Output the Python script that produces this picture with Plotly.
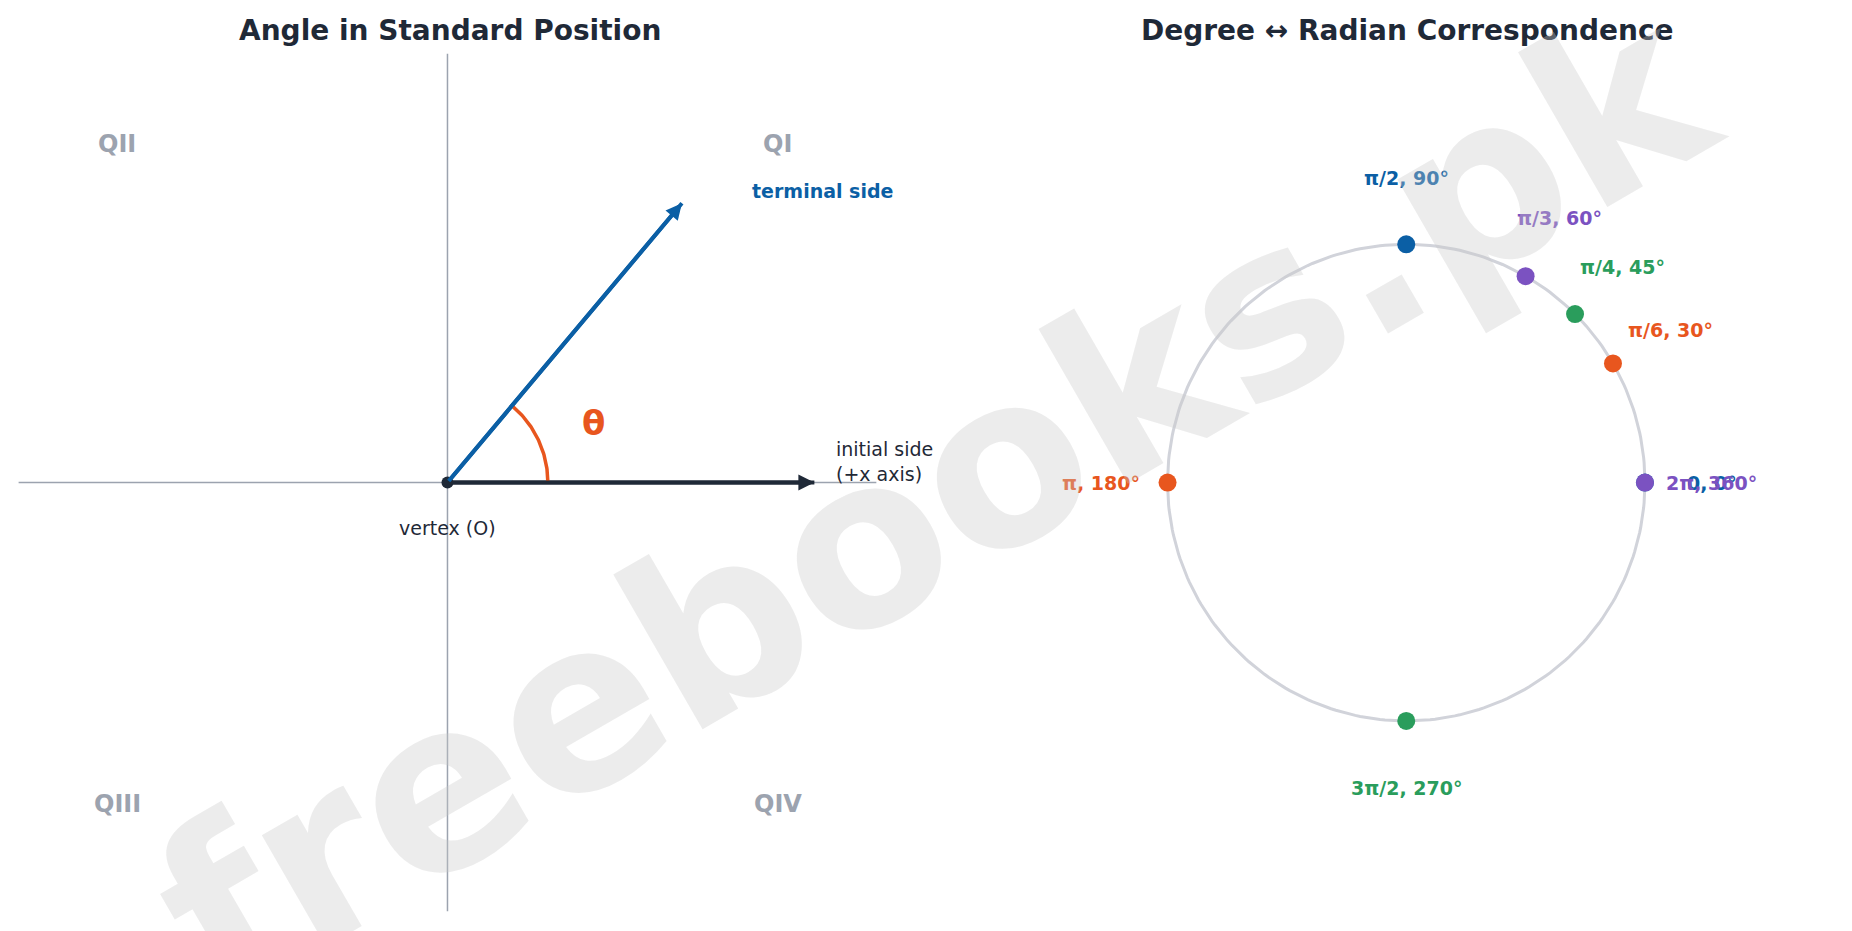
import numpy as np
import plotly.graph_objects as go

BLUE = '#0b5fa5'
ORANGE = '#e8561e'
GREEN = '#2a9d5c'
PURPLE = '#7b52c1'
DARK = '#1f2937'
GRAY = '#9ca3af'

# left panel
theta_deg = 50
terminal_len = 0.85
initial_len = 0.855
arc_r = 0.234
quadrants = ['QI', 'QII', 'QIII', 'QIV']
quad_x = [0.77, -0.77, -0.77, 0.77]
quad_y = [0.79, 0.79, -0.75, -0.75]

# right panel
angle_labels = ['0, 0°', 'π/6, 30°', 'π/4, 45°', 'π/3, 60°', 'π/2, 90°',
                'π, 180°', '3π/2, 270°', '2π, 360°']
angle_deg = [0, 30, 45, 60, 90, 180, 270, 360]
angle_colors = [BLUE, ORANGE, GREEN, PURPLE, BLUE, ORANGE, GREEN, PURPLE]
label_r = 1.28

fig = go.Figure()

# axes lines
fig.add_trace(go.Scatter(x=[-1, 1], y=[0, 0], mode='lines',
                         line=dict(color=GRAY, width=1.5), xaxis='x', yaxis='y'))
fig.add_trace(go.Scatter(x=[0, 0], y=[-1, 1], mode='lines',
                         line=dict(color=GRAY, width=1.5), xaxis='x', yaxis='y'))

t = np.radians(theta_deg)
tx, ty = terminal_len * np.cos(t), terminal_len * np.sin(t)
fig.add_trace(go.Scatter(x=[0, initial_len], y=[0, 0], mode='lines',
                         line=dict(color=DARK, width=4)))
fig.add_trace(go.Scatter(x=[0, tx], y=[0, ty], mode='lines',
                         line=dict(color=BLUE, width=4)))
arc_t = np.linspace(0, t, 60)
fig.add_trace(go.Scatter(x=arc_r * np.cos(arc_t), y=arc_r * np.sin(arc_t), mode='lines',
                         line=dict(color=ORANGE, width=3.5)))
fig.add_trace(go.Scatter(x=[0], y=[0], mode='markers',
                         marker=dict(color=DARK, size=12)))

for xe, ye, c in [(initial_len, 0, DARK), (tx, ty, BLUE)]:
    fig.add_annotation(x=xe, y=ye, ax=0, ay=0, xref='x', yref='y', axref='x', ayref='y',
                       showarrow=True, arrowhead=2, arrowsize=0.8, arrowwidth=4,
                       arrowcolor=c, text='')

for q, qx, qy in zip(quadrants, quad_x, quad_y):
    fig.add_annotation(x=qx, y=qy, xref='x', yref='y', text='<b>%s</b>' % q,
                       showarrow=False, font=dict(size=24, color=GRAY))
fig.add_annotation(x=0.875, y=0.68, xref='x', yref='y', text='<b>terminal side</b>',
                   showarrow=False, font=dict(size=19, color=BLUE))
fig.add_annotation(x=0.90, y=0.05, xref='x', yref='y', text='initial side<br>(+x axis)',
                   showarrow=False, xanchor='left', align='left',
                   font=dict(size=19, color=DARK))
fig.add_annotation(x=0, y=-0.107, xref='x', yref='y', text='vertex (O)',
                   showarrow=False, font=dict(size=19, color=DARK))
fig.add_annotation(x=0.34, y=0.14, xref='x', yref='y', text='<b>θ</b>',
                   showarrow=False, font=dict(size=34, color=ORANGE))

# right panel circle
ct = np.linspace(0, 2 * np.pi, 300)
fig.add_trace(go.Scatter(x=np.cos(ct), y=np.sin(ct), mode='lines',
                         line=dict(color='#d1d3da', width=3), xaxis='x2', yaxis='y2'))
for lab, d, c in zip(angle_labels, angle_deg, angle_colors):
    r = np.radians(d)
    fig.add_trace(go.Scatter(x=[np.cos(r)], y=[np.sin(r)], mode='markers',
                             marker=dict(color=c, size=18), xaxis='x2', yaxis='y2'))
    fig.add_annotation(x=label_r * np.cos(r), y=label_r * np.sin(r), xref='x2', yref='y2',
                       text='<b>%s</b>' % lab, showarrow=False,
                       font=dict(size=19, color=c))

# titles
fig.add_annotation(x=0.2385, y=0.976, xref='paper', yref='paper', showarrow=False,
                   xanchor='center', yanchor='middle', text='<b>Angle in Standard Position</b>',
                   font=dict(size=28, color=DARK))
fig.add_annotation(x=0.7555, y=0.976, xref='paper', yref='paper', showarrow=False,
                   xanchor='center', yanchor='middle', text='<b>Degree ↔ Radian Correspondence</b>',
                   font=dict(size=28, color=DARK))

# watermark
fig.add_annotation(x=0.50, y=0.47, xref='paper', yref='paper', text='<b>freebooks.pk</b>',
                   xanchor='center', yanchor='middle', textangle=-30, showarrow=False,
                   font=dict(size=235, color='rgba(200,200,200,0.35)', family='DejaVu Sans'))

fig.update_layout(
    width=1852, height=931, showlegend=False,
    plot_bgcolor='white', paper_bgcolor='white',
    margin=dict(l=0, r=0, t=0, b=0),
    font=dict(family='DejaVu Sans'),
    xaxis=dict(domain=[0.0056, 0.469], range=[-1, 1], visible=False),
    yaxis=dict(domain=[0.0295, 0.951], range=[-1, 1], visible=False),
    xaxis2=dict(domain=[0.523, 0.987], range=[-1.8, 1.8], visible=False),
    yaxis2=dict(domain=[0.0295, 0.951], range=[-1.8, 1.8], visible=False),
)

fig.write_html('out.html')
